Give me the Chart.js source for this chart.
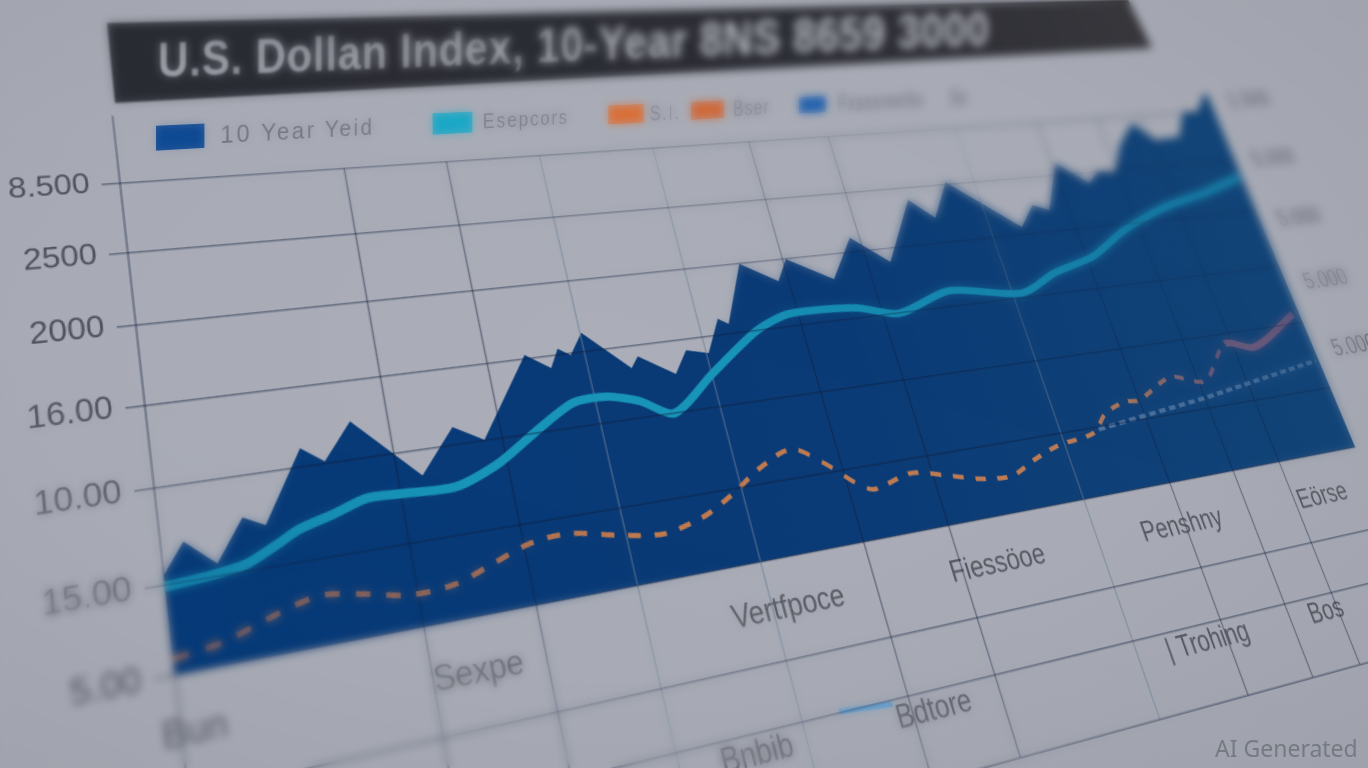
<!DOCTYPE html>
<html>
<head>
<meta charset="utf-8">
<script src="https://cdn.jsdelivr.net/npm/chart.js@4"></script>
<style>
    html, body { margin: 0; width: 1368px; height: 768px; overflow: hidden; }
    body { position: relative; background: radial-gradient(ellipse at 45% 45%, #abaeb8 0%, #a8abb5 55%, #9fa2ac 100%); font-family: "Liberation Sans", sans-serif; }
    .layer { position: absolute; left: 0; top: 0; transform-origin: 0 0; }
    #chart { filter: blur(0.6px); }
    #titleBand { width: 1716px; height: 80px; background: linear-gradient(90deg, #2a2c34, #2d2e35 60%, #37373c); filter: blur(0.9px); }
    #titleText { white-space: nowrap; font-size: 50px; line-height: 36px; font-weight: bold; letter-spacing: 1px; color: #b4b7bf; filter: blur(0.9px); }
    #legendRow { width: 1518px; height: 25px; filter: blur(0.7px); }
    #legendRow .swatch, #legendRow .name { position: absolute; top: 0; white-space: nowrap; }
    #legendRow .swatch { height: 25px; }
    #legendRow .name { line-height: 25px; letter-spacing: 3px; color: #676a74; }
    #tiltBlur { position: absolute; inset: 0; backdrop-filter: blur(4.5px);
        -webkit-mask-image: linear-gradient(195deg, #000 20%, transparent 46%, transparent 64%, #000 88%);
        mask-image: linear-gradient(195deg, #000 20%, transparent 46%, transparent 64%, #000 88%); }
    #mark { position: absolute; left: 1215px; top: 732px; font: 23px "Noto Sans", sans-serif; color: #767a83; }
</style>
</head>
<body>
<canvas id="chart" class="layer" width="1420" height="660"></canvas>
<div id="titleBand" class="layer"></div>
<div id="titleText" class="layer"></div>
<div id="legendRow" class="layer"></div>
<div id="tiltBlur"></div>
<div id="mark">AI Generated</div>
<script>
const titleLabel = 'U.S. Dollan Index, 10-Year 8NS 8659 3000';
const legendNames = ['10 Year Yeid', 'Esepcors', 'S.I.', 'Bser', 'Fxsssreelbs', '5o'];

const areaX = [0, 1.4, 3.3, 5.2, 6.6, 9.5, 11, 13.1, 17.4, 20.1, 22.2, 26.4, 28.2, 29, 29.9, 31.1, 34.4, 35.1, 37.8, 39.1, 40.9, 42.4, 43.2, 45.5, 48.5, 49.7, 53.5, 56.1, 59.2, 62.8, 64.9, 67.1, 73.3, 75.2, 76.8, 79.3, 82.2, 83.5, 85.5, 87.2, 89.6, 91.5, 94.5, 96.1, 97.9, 99.7, 100];
const areaY = [1.1, 1.44, 1.13, 1.61, 1.48, 2.33, 2.13, 2.58, 1.78, 2.33, 2.11, 3.15, 2.93, 3.18, 3.07, 3.36, 2.79, 2.94, 2.63, 2.94, 2.86, 3.33, 3.24, 4.1, 3.78, 4.1, 3.72, 4.33, 3.89, 4.85, 4.52, 5.09, 4.23, 4.58, 4.47, 5.26, 4.87, 5.05, 5.02, 5.49, 5.88, 5.54, 5.56, 6.02, 6, 6.36, 6.3];
const tealX = [0, 2.9, 5.1, 7.1, 8.7, 11, 13.4, 15.6, 19.6, 22.9, 26.3, 29.3, 31.9, 34.4, 36.9, 40.8, 45.4, 48.6, 54.7, 58.5, 63.9, 71, 75, 79.7, 84.1, 89.6, 94.8, 99.7];
const tealY = [0.97, 1.01, 1.07, 1.23, 1.37, 1.48, 1.61, 1.6, 1.58, 1.79, 2.15, 2.43, 2.45, 2.33, 2.1, 2.57, 3.09, 3.28, 3.25, 3.09, 3.34, 3.17, 3.43, 3.63, 4.01, 4.33, 4.51, 4.74];
const orangeX = [0, 3, 6.2, 7.9, 9.6, 12.4, 15.2, 18.3, 21.1, 23.9, 26.8, 30.8, 33.8, 36.3, 37.7, 40.2, 42.5, 45.6, 48, 50.3, 51.6, 55.2, 58.5, 61.3, 64.1, 66.7, 69.4, 73.2, 75, 77.3, 78.9, 83, 86.5, 90.2, 93.4, 99.2];
const orangeY = [0.17, 0.25, 0.43, 0.52, 0.57, 0.49, 0.39, 0.42, 0.58, 0.74, 0.78, 0.64, 0.57, 0.65, 0.73, 0.95, 1.19, 1.38, 1.12, 0.77, 0.66, 0.79, 0.66, 0.54, 0.51, 0.68, 0.82, 0.91, 1.16, 1.29, 1.28, 1.55, 1.41, 1.94, 1.82, 2.26];
const paleX = [73.8, 85.8, 99.6];
const paleY = [0.95, 1.15, 1.45];
const stubX = [43.7, 48];
const stubY = [-1.99, -2.05];
const axisRuleX = [0, 0];
const axisRuleY = [-3.05, 6.95];

const yMin = -3.05, yMax = 6.4;
const yTickValues = [6, 5.05, 4.11, 3.1, 2.1, 0.99, 0, -1.25, -2, -3.05];
const yTickLabels = ['8.500', '2500', '2000', '16.00', '10.00', '15.00', '5.00', '', '', ''];
const rightTickValues = [6.16, 5.02, 3.9, 2.76, 1.58];
const rightTickLabels = ['1.500', '5.000', '5.000', '5.000', '5.000'];
const verticalTicks = [15.7, 23.5, 31, 40.7, 49.4, 57, 70, 78.9, 85.8, 91];
const paleVerticals = [31, 40.7, 70];
const verticalSpan = [-3.05, 6];
const rowOneTicks = [0.8, 18.8, 42, 60.3, 78.6, 94.2];
const rowOneLabels = ['Bun', 'Sexpe', 'Vertfpoce', 'Fiessöoe', 'Penshny', 'Eörse'];
const rowTwoTicks = [36.8, 51.2, 77, 89.7];
const rowTwoLabels = ['Bnbib', 'Bdtore', '| Trohing', 'Bos'];

const points = (xs, ys) => xs.map((x, i) => ({ x, y: ys[i] }));

function solveLinear(A, b) {
    const n = b.length;
    for (let i = 0; i < n; i++) {
        let p = i;
        for (let r = i + 1; r < n; r++) if (Math.abs(A[r][i]) > Math.abs(A[p][i])) p = r;
        [A[i], A[p]] = [A[p], A[i]];
        [b[i], b[p]] = [b[p], b[i]];
        for (let r = i + 1; r < n; r++) {
            const f = A[r][i] / A[i][i];
            for (let c = i; c < n; c++) A[r][c] -= f * A[i][c];
            b[r] -= f * b[i];
        }
    }
    const out = new Array(n).fill(0);
    for (let i = n - 1; i >= 0; i--) {
        let s = b[i];
        for (let c = i + 1; c < n; c++) s -= A[i][c] * out[c];
        out[i] = s / A[i][i];
    }
    return out;
}

// css matrix3d that lays four flat corners onto four screen corners
function tiltTo(el, from, to) {
    const A = [], b = [];
    from.forEach(([x, y], i) => {
        const [u, v] = to[i];
        A.push([x, y, 1, 0, 0, 0, -u * x, -u * y]); b.push(u);
        A.push([0, 0, 0, x, y, 1, -v * x, -v * y]); b.push(v);
    });
    const h = solveLinear(A, b);
    el.style.transform = `matrix3d(${h[0]},${h[3]},0,${h[6]},${h[1]},${h[4]},0,${h[7]},0,0,1,0,${h[2]},${h[5]},0,1)`;
}

function fixedTicks(values) {
    return axis => { axis.ticks = values.map(value => ({ value })); };
}

const labelScale = (values, labels, y, padding) => ({
    axis: 'x', type: 'linear', min: 0, max: 100,
    position: { y },
    afterBuildTicks: fixedTicks(values),
    grid: { display: false, drawTicks: false },
    border: { display: false },
    ticks: {
        autoSkip: false, maxRotation: 0, minRotation: 0, padding,
        color: '#555861', font: { family: 'Liberation Sans', size: 25 },
        callback: (v, i) => labels[i]
    }
});

function sideGradient(ctx, stops, fallback) {
    const area = ctx.chart.chartArea;
    if (!area) return fallback;
    const g = ctx.chart.ctx.createLinearGradient(area.left, 0, area.right, 0);
    stops.forEach(([at, color]) => g.addColorStop(at, color));
    return g;
}

const orangeFade = ctx => sideGradient(ctx, [[0, '#a86c56'], [0.3, '#c27a4e'], [0.78, '#bb7c58'], [0.88, '#80607a'], [1, '#7a5b7c']], '#c27a4e');
const areaFade = ctx => sideGradient(ctx, [[0, '#063a78'], [0.5, '#0b3b76'], [1, '#134578']], '#0b3b76');
const gridInk = 'rgba(15,28,60,0.42)';

// vertical rules stop at the top gridline, the peaks of the area go past it
const verticalRules = verticalTicks.map(x => ({
    label: 'v' + x,
    data: points([x, x], verticalSpan),
    borderColor: paleVerticals.includes(x) ? 'rgba(105,125,150,0.55)' : gridInk,
    borderWidth: 1.5,
    pointRadius: 0
}));

const chart = new Chart(document.getElementById('chart'), {
    type: 'line',
    data: {
        datasets: [
            { label: 'Esepcors', data: points(tealX, tealY), borderColor: '#1894b8', borderWidth: 7, tension: 0.25, pointRadius: 0 },
            {
                label: 'Bser', data: points(orangeX, orangeY), borderColor: orangeFade, borderWidth: 4, borderDash: [11, 12], tension: 0.3, pointRadius: 0,
                segment: {
                    borderDash: c => c.p0.parsed.x > 88 ? [] : undefined,
                    borderWidth: c => c.p0.parsed.x > 88 ? 7 : undefined
                }
            },
            { label: 'Fxsssre', data: points(paleX, paleY), borderColor: 'rgba(165,185,212,0.45)', borderWidth: 4, borderDash: [8, 5], pointRadius: 0 },
            { label: '5o', data: points(stubX, stubY), borderColor: '#5d9fd2', borderWidth: 4, pointRadius: 0 },
            ...verticalRules,
            { label: 'axis', data: points(axisRuleX, axisRuleY), borderColor: gridInk, borderWidth: 1.5, pointRadius: 0, clip: false },
            { label: '10 Year Yeid', data: points(areaX, areaY), borderWidth: 0, backgroundColor: areaFade, fill: { value: 0 }, tension: 0, pointRadius: 0 }
        ]
    },
    options: {
        responsive: false,
        animation: false,
        devicePixelRatio: 2,
        layout: { padding: { left: 30, right: 30, top: 40, bottom: 6 } },
        plugins: { legend: { display: false }, tooltip: { enabled: false } },
        scales: {
            x: {
                type: 'linear', min: 0, max: 100,
                border: { display: false },
                ticks: { display: false },
                grid: { display: false, drawTicks: false }
            },
            y: {
                min: yMin, max: yMax,
                afterBuildTicks: fixedTicks(yTickValues),
                border: { display: false },
                grid: { z: 1, lineWidth: 1.5, tickLength: 14, color: gridInk },
                ticks: {
                    autoSkip: false, padding: 9, color: '#4e515b',
                    font: { family: 'Liberation Sans', size: 24 },
                    callback: (v, i) => yTickLabels[i]
                }
            },
            y2: {
                position: 'right', min: yMin, max: yMax,
                afterBuildTicks: fixedTicks(rightTickValues),
                border: { display: false },
                grid: { display: false, drawTicks: false },
                ticks: {
                    autoSkip: false, padding: 25, color: '#5e616b',
                    font: { family: 'Liberation Sans', size: 25 },
                    callback: (v, i) => rightTickLabels[i]
                }
            },
            xRowOne: labelScale(rowOneTicks, rowOneLabels, 0, 24),
            xRowTwo: labelScale(rowTwoTicks, rowTwoLabels, -2, 0)
        }
    }
});

const sx = chart.scales.x, sy = chart.scales.y;
tiltTo(document.getElementById('chart'),
    [[sx.getPixelForValue(0), sy.getPixelForValue(6)], [sx.getPixelForValue(100), sy.getPixelForValue(6)],
     [sx.getPixelForValue(100), sy.getPixelForValue(0)], [sx.getPixelForValue(0), sy.getPixelForValue(0)]],
    [[120, 183], [1214, 111], [1355, 447], [175, 675]]);

tiltTo(document.getElementById('titleBand'),
    [[0, 0], [1716, 0], [1716, 80], [0, 80]],
    [[107, 23], [1128, 0], [1152, 48], [115, 103]]);

const titleText = document.getElementById('titleText');
titleText.textContent = titleLabel;
const tw = titleText.offsetWidth, th = titleText.offsetHeight;
tiltTo(titleText,
    [[0, 0], [tw, 0], [tw, th], [0, th]],
    [[158, 43], [990, 12], [990, 46], [158, 78]]);

const legendRow = document.getElementById('legendRow');
const legendSlots = [
    { swatch: [6, 50, '#0f4a94'], name: 73, size: 26 },
    { swatch: [331, 56, '#1ba8c6'], name: 402, size: 26 },
    { swatch: [601, 62, '#d9703a'], name: 674, size: 30 },
    { swatch: [751, 66, '#cf6a3c'], name: 835, size: 32 },
    { swatch: [978, 62, '#2563ae'], name: 1067, size: 36 },
    { name: 1365, size: 42 }
];
legendSlots.forEach((slot, i) => {
    if (slot.swatch) {
        const s = document.createElement('div');
        s.className = 'swatch';
        s.style.left = slot.swatch[0] + 'px';
        s.style.width = slot.swatch[1] + 'px';
        s.style.background = slot.swatch[2];
        legendRow.appendChild(s);
    }
    const t = document.createElement('div');
    t.className = 'name';
    t.style.left = slot.name + 'px';
    t.style.fontSize = slot.size + 'px';
    t.textContent = legendNames[i];
    legendRow.appendChild(t);
});
tiltTo(legendRow,
    [[0, 0], [1518, 0], [1518, 25], [0, 25]],
    [[150, 126], [1000, 88], [1000, 102], [150, 151]]);
</script>
</body>
</html>
